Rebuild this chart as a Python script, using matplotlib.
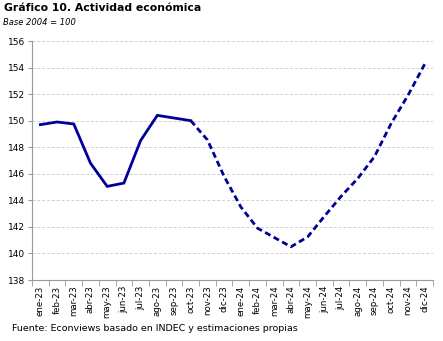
import matplotlib
matplotlib.use("Agg")
import matplotlib.pyplot as plt
import numpy as np

# datos
meses = ['ene-23', 'feb-23', 'mar-23', 'abr-23', 'may-23', 'jun-23', 'jul-23', 'ago-23',
         'sep-23', 'oct-23', 'nov-23', 'dic-23', 'ene-24', 'feb-24', 'mar-24', 'abr-24',
         'may-24', 'jun-24', 'jul-24', 'ago-24', 'sep-24', 'oct-24', 'nov-24', 'dic-24']
observado = [149.7, 149.9, 149.75, 146.8, 145.05, 145.3, 148.5, 150.4, 150.2, 150.0]
proyectado = [150.0, 148.55, 145.8, 143.5, 141.9, 141.2, 140.5, 141.25, 142.8, 144.3,
              145.65, 147.3, 149.8, 151.9, 154.25]
inicio_proy = 9  # oct-23

color = '#000099'
plt.rcParams['font.family'] = ['DejaVu Sans']

fig = plt.figure(figsize=(4.43, 3.41), dpi=100)
ax = fig.add_axes([32 / 443, 1 - 280 / 341, 401 / 443, 239 / 341])

x_obs = np.arange(len(observado))
x_proy = np.arange(inicio_proy, inicio_proy + len(proyectado))
ax.plot(x_obs, observado, color=color, lw=2.0, solid_joinstyle='miter')
ax.plot(x_proy, proyectado, color=color, lw=2.0, linestyle=(0, (2.2, 1.3)))

ax.set_xlim(-0.5, len(meses) - 0.5)
ax.set_ylim(138, 156)
ax.set_yticks(np.arange(138, 157, 2))
ax.tick_params(axis='y', labelsize=6.5, length=3, color='#999999', pad=2)
ax.set_xticks(np.arange(len(meses)))
ax.set_xticklabels(meses, rotation=90, fontsize=6.2)
ax.tick_params(axis='x', length=0, pad=4)
ax.set_xticks(np.arange(-0.5, len(meses)), minor=True)
ax.tick_params(axis='x', which='minor', length=4, color='#999999')

ax.grid(axis='y', color='#d0d0d0', linestyle=(0, (3, 2)), lw=0.7)
ax.set_axisbelow(True)
for s in ['top', 'right']:
    ax.spines[s].set_visible(False)
for s in ['left', 'bottom']:
    ax.spines[s].set_color('#999999')
    ax.spines[s].set_linewidth(0.8)

fig.text(4 / 443, 1 - 3 / 341, 'Gráfico 10. Actividad económica', fontsize=7.8,
         fontweight='bold', va='top', ha='left')
fig.text(3 / 443, 1 - 18 / 341, 'Base 2004 = 100', fontsize=6, style='italic',
         va='top', ha='left')
fig.text(12 / 443, 1 - 324 / 341, 'Fuente: Econviews basado en INDEC y estimaciones propias',
         fontsize=6.8, va='top', ha='left')

fig.savefig('out.png', dpi=100)
